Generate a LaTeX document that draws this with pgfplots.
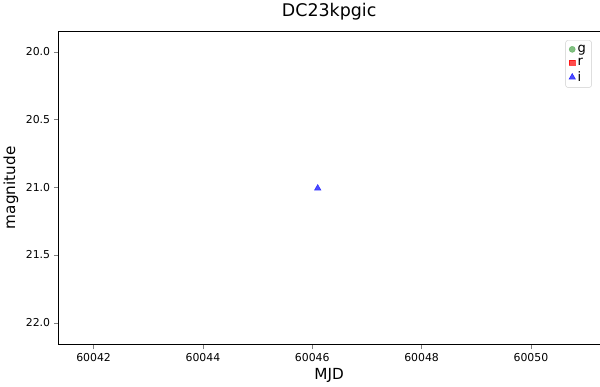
\documentclass[border=0pt]{standalone}
\usepackage{pgfplots}
\pgfplotsset{compat=1.18}
\usepackage{fontspec}
\setmainfont{DejaVu Sans}
\begin{document}
\begin{tikzpicture}
\begin{axis}[
  width=495bp, height=287bp, scale only axis,
  xmin=60041.36, xmax=60051.26,
  ymin=19.847, ymax=22.161, y dir=reverse,
  xtick={60042,60044,60046,60048,60050},
  ytick={20.0,20.5,21.0,21.5,22.0},
  scaled x ticks=false,
  xticklabel style={/pgf/number format/fixed,/pgf/number format/1000 sep={}},
  yticklabel style={/pgf/number format/fixed,/pgf/number format/fixed zerofill,/pgf/number format/precision=1},
  /pgf/number format/assume math mode=true,
  ticklabel style={font=\fontsize{10}{12}\selectfont},
  tick align=outside, tick pos=left,
  xlabel={MJD}, ylabel={magnitude},
  label style={font=\fontsize{14}{16}\selectfont},
  title={DC23kpgic}, title style={font=\fontsize{16}{19}\selectfont},
  legend style={at={(0.985,0.97)},anchor=north east,font=\fontsize{12}{14}\selectfont,draw=black!20,rounded corners=2pt},
  legend cell align=left,
]
\addlegendimage{only marks, mark=*, mark size=2.8pt, color=green!50!black!70!white, opacity=0.7}
\addlegendentry{g}
\addlegendimage{only marks, mark=square*, mark size=2.6pt, color=red, opacity=0.7}
\addlegendentry{r}
\addplot[only marks, mark=triangle*, mark size=3.5pt, color=blue, opacity=0.7] coordinates {(60046.1,21.008)};
\addlegendentry{i}
\end{axis}
\end{tikzpicture}
\end{document}
